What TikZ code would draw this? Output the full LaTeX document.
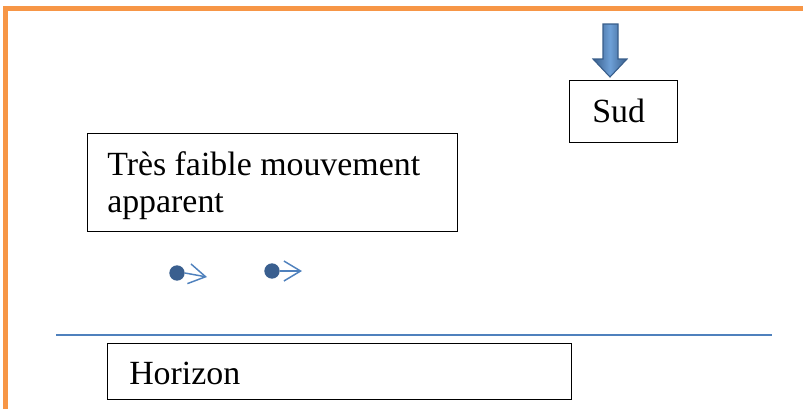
\documentclass[tikz,border=0pt]{standalone}
\usepackage{fontspec}
\setmainfont{Liberation Serif}
\usetikzlibrary{arrows.meta}
\definecolor{frameorange}{RGB}{247,150,70}
\definecolor{accblue}{RGB}{79,129,189}
\definecolor{darkblue}{RGB}{56,93,138}
\definecolor{dotblue}{RGB}{58,95,143}
\definecolor{lightblue}{RGB}{110,160,215}
\tikzset{
  txtbox/.style={draw=black, line width=1pt, anchor=north west, inner sep=0pt},
  lbl/.style={anchor=base west, inner sep=0pt, font=\fontsize{25.4pt}{27.75pt}\selectfont},
  movdot/.style={circle, fill=dotblue, inner sep=0pt, minimum size=11.5pt},
  movarrow/.style={draw=accblue, line width=1.1pt, -{Straight Barb[length=12.5pt,width=15pt]}}
}
\begin{document}
\begin{tikzpicture}[x=0.75pt,y=-0.75pt]
\useasboundingbox (0,0) rectangle (803,408);
% orange frame
\draw[frameorange, line width=3.4pt] (5.5,420) -- (5.5,8.5) -- (815,8.5);
% down arrow
\draw[darkblue, line width=0.8pt, left color=darkblue, right color=darkblue, middle color=lightblue]
  (603,24) -- (618,24) -- (618,59) -- (627,59) -- (610,77) -- (593,59) -- (603,59) -- cycle;
% Sud box
\node[txtbox, minimum width=81pt, minimum height=46.5pt] (sudbox) at (569,80) {};
\node[lbl] (sud) at (592,122) {Sud};
% Tres faible box
\node[txtbox, minimum width=277.5pt, minimum height=73.5pt] (tfbox) at (87,133) {};
\node[lbl] (tf1) at (107,175) {Très faible mouvement};
\node[lbl] (tf2) at (107,212) {apparent};
% dots and arrows
\node[movdot] (d1) at (177,273) {};
\coordinate (t1) at (207,277);
\draw[movarrow] (d1.east) -- (t1);
\node[movdot] (d2) at (272,271) {};
\coordinate (t2) at (302,271);
\draw[movarrow] (d2.east) -- (t2);
% horizon line
\coordinate (h1) at (56,335);
\coordinate (h2) at (772,335);
\draw[accblue, line width=1.6pt] (h1) -- (h2);
% Horizon box
\node[txtbox, minimum width=348pt, minimum height=42pt] (hbox) at (107,343) {};
\node[lbl] (hor) at (129,384) {Horizon};
\end{tikzpicture}
\end{document}
